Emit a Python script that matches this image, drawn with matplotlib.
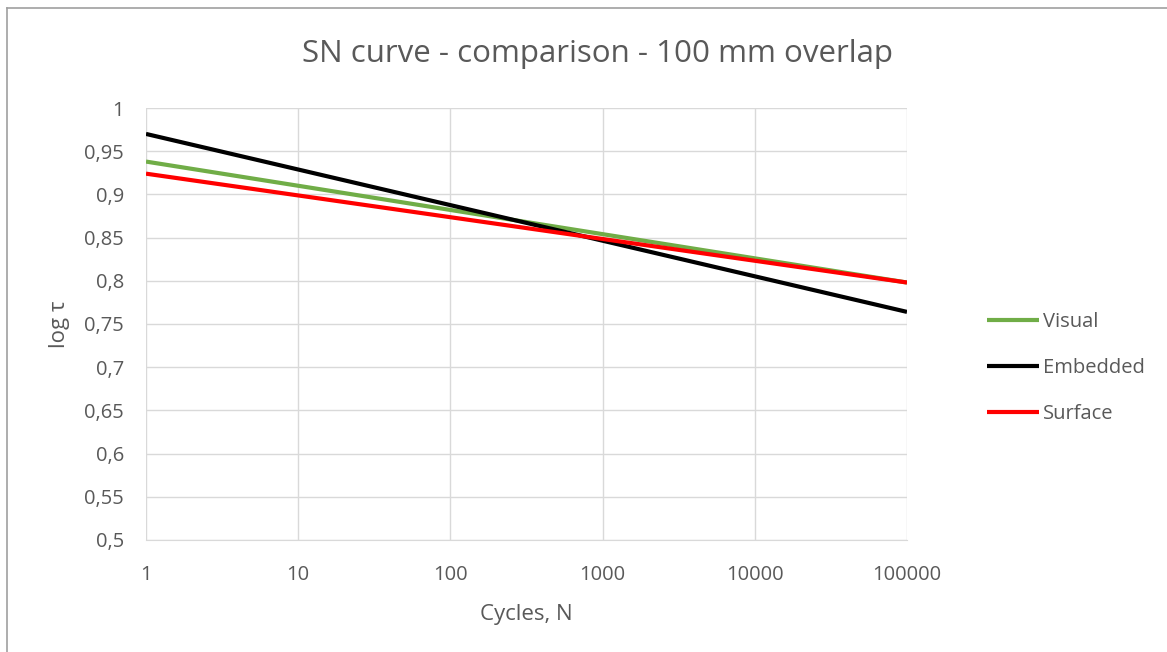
import matplotlib.pyplot as plt
from matplotlib.ticker import FixedLocator, FuncFormatter

# SN curves (log tau vs cycles), straight lines on log-x
cycles = [1, 100000]
visual = [0.938, 0.798]
embedded = [0.970, 0.764]
surface = [0.924, 0.798]

x_ticks = [1, 10, 100, 1000, 10000, 100000]
y_ticks = [0.5, 0.55, 0.6, 0.65, 0.7, 0.75, 0.8, 0.85, 0.9, 0.95, 1.0]

plt.rcParams['font.family'] = ['Open Sans', 'DejaVu Sans']
txt = '#595959'
grid = '#d9d9d9'

fig = plt.figure(figsize=(11.67, 6.52), dpi=100)
ax = fig.add_axes([146/1167, 1 - 540/652, (907-146)/1167, (540-108)/652])

ax.plot(cycles, visual, color='#70ad47', lw=3, label='Visual', solid_capstyle='butt')
ax.plot(cycles, embedded, color='black', lw=3, label='Embedded', solid_capstyle='butt')
ax.plot(cycles, surface, color='#ff0000', lw=3, label='Surface', solid_capstyle='butt')

ax.set_xscale('log')
ax.set_xlim(1, 100000)
ax.set_ylim(0.5, 1.0)
ax.xaxis.set_major_locator(FixedLocator(x_ticks))
ax.xaxis.set_minor_locator(FixedLocator([]))
ax.xaxis.set_major_formatter(FuncFormatter(lambda v, p: f'{v:.0f}'))
ax.yaxis.set_major_locator(FixedLocator(y_ticks))
ax.yaxis.set_major_formatter(FuncFormatter(lambda v, p: f'{v:g}'.replace('.', ',')))

ax.grid(True, color=grid, lw=1)
ax.set_axisbelow(True)
for s in ['top', 'right', 'left']:
    ax.spines[s].set_visible(False)
ax.spines['bottom'].set_color(grid)
ax.tick_params(length=0, labelsize=14.5, colors=txt)
ax.tick_params(axis='y', pad=16)
ax.tick_params(axis='x', pad=18)

ax.set_xlabel('Cycles, N', fontsize=16, color=txt, labelpad=14)
ax.set_ylabel('log τ', fontsize=16, color=txt, labelpad=10)
fig.text(598/1167, 1 - 54/652, 'SN curve - comparison - 100 mm overlap',
         ha='center', va='center', fontsize=22.5, color=txt)

leg = ax.legend(loc='center left', bbox_to_anchor=(1.081, 0.398), frameon=False,
                fontsize=14.5, labelcolor=txt, handlelength=2.6, handletextpad=0.2,
                labelspacing=1.3)

# chart frame (only top and left visible)
fig.add_artist(plt.Line2D([7/1167, 7/1167], [0, 1 - 8/652], color='#a0a0a0', lw=1.2))
fig.add_artist(plt.Line2D([7/1167, 1], [1 - 8/652, 1 - 8/652], color='#a0a0a0', lw=1.2))

fig.savefig('out.png', dpi=100)
